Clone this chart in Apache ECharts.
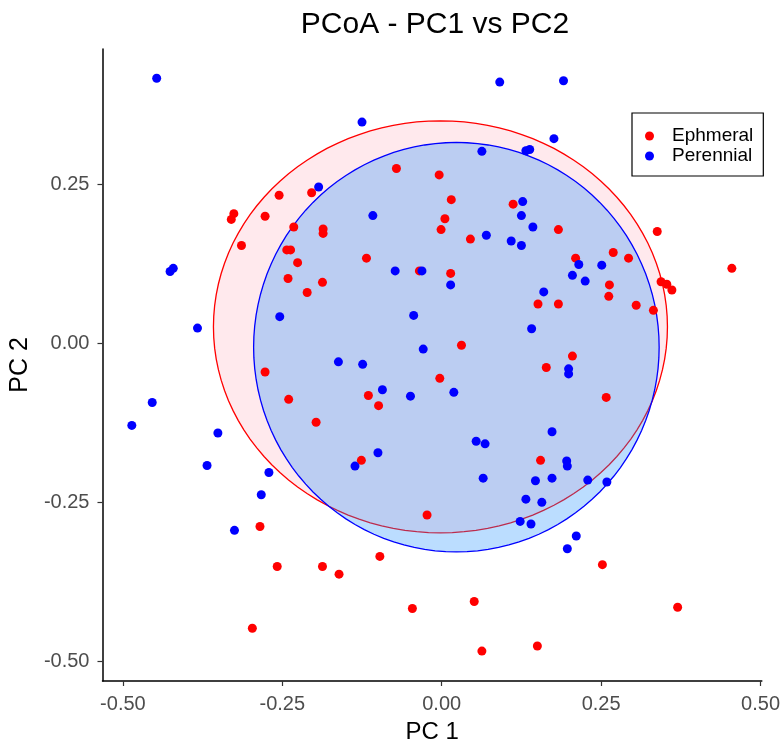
<!DOCTYPE html>
<html lang="en">
  <head>
    <meta charset="UTF-8" />
    <title>PCoA - PC1 vs PC2</title>
    <script src="https://cdn.jsdelivr.net/npm/echarts@6.0.0/dist/echarts.min.js"></script>
    <style>
      html, body { margin: 0; padding: 0; background: #fff; }
    </style>
  </head>
  <body>
    <div id="main" style="width: 783px; height: 749px"></div>
    <script>
      // group points [PC1, PC2]
      var ephmeral = [
        [-0.255, 0.233], [-0.204, 0.237], [-0.326, 0.204], [-0.330, 0.195], [-0.277, 0.200],
        [-0.232, 0.183], [-0.186, 0.180], [-0.186, 0.173], [-0.314, 0.154], [-0.243, 0.147],
        [-0.237, 0.147], [-0.226, 0.127], [-0.241, 0.102], [-0.187, 0.096], [-0.211, 0.080],
        [-0.277, -0.045], [-0.240, -0.088], [-0.197, -0.124], [-0.071, 0.275], [-0.004, 0.265],
        [0.015, 0.226], [0.112, 0.219], [0.005, 0.196], [-0.001, 0.179], [0.045, 0.164],
        [-0.118, 0.134], [0.183, 0.179], [0.338, 0.176], [0.269, 0.143], [0.210, 0.134],
        [0.293, 0.134], [-0.035, 0.114], [0.014, 0.110], [0.151, 0.062], [0.031, -0.003],
        [-0.003, -0.055], [-0.115, -0.082], [-0.099, -0.098], [0.164, -0.038], [-0.126, -0.184],
        [0.155, -0.184], [0.455, 0.118], [0.344, 0.097], [0.353, 0.093], [0.361, 0.084],
        [0.263, 0.092], [0.262, 0.074], [0.183, 0.062], [0.305, 0.060], [0.332, 0.052],
        [0.205, -0.020], [0.258, -0.085], [-0.285, -0.288], [-0.258, -0.351], [-0.187, -0.351],
        [-0.297, -0.448], [-0.023, -0.270], [-0.097, -0.335], [-0.161, -0.363], [-0.046, -0.417],
        [0.051, -0.406], [0.063, -0.484], [0.150, -0.476], [0.252, -0.348], [0.370, -0.415]
      ];
      var perennial = [
        [-0.447, 0.417], [-0.193, 0.246], [0.091, 0.411], [-0.125, 0.348], [0.063, 0.302],
        [0.132, 0.303], [0.138, 0.305], [0.127, 0.223], [0.125, 0.201], [0.143, 0.183],
        [-0.108, 0.201], [0.070, 0.170], [0.109, 0.161], [0.125, 0.154], [0.191, 0.413],
        [0.176, 0.322], [-0.426, 0.113], [-0.421, 0.118], [-0.383, 0.024], [-0.254, 0.042],
        [-0.454, -0.093], [-0.486, -0.129], [-0.351, -0.141], [-0.368, -0.192], [-0.073, 0.114],
        [-0.031, 0.114], [0.014, 0.092], [0.160, 0.081], [0.141, 0.023], [-0.044, 0.044],
        [-0.029, -0.009], [-0.162, -0.029], [-0.124, -0.033], [-0.093, -0.073], [-0.049, -0.083],
        [0.019, -0.077], [0.054, -0.154], [0.068, -0.158], [-0.100, -0.172], [-0.136, -0.193],
        [0.215, 0.124], [0.251, 0.123], [0.205, 0.107], [0.225, 0.098], [0.199, -0.040],
        [0.199, -0.048], [0.173, -0.139], [0.196, -0.185], [0.197, -0.193], [-0.271, -0.203],
        [-0.283, -0.238], [-0.325, -0.294], [0.065, -0.212], [0.147, -0.216], [0.132, -0.245],
        [0.157, -0.250], [0.123, -0.280], [0.140, -0.284], [0.173, -0.212], [0.229, -0.215],
        [0.259, -0.218], [0.211, -0.303], [0.197, -0.323]
      ];

      // ellipses: [centerX, centerY, radiusX, radiusY]
      var ephEllipse = [-0.002, 0.026, 0.356, 0.324];
      var perEllipse = [0.023, -0.006, 0.318, 0.322];

      var xTicks = [-0.5, -0.25, 0, 0.25, 0.5];
      var yTicks = [-0.5, -0.25, 0, 0.25];

      var font = 'Liberation Sans, Arial, sans-serif';

      function ellipseRenderer(fill, stroke) {
        return function (params, api) {
          var cx = api.value(0), cy = api.value(1), rx = api.value(2), ry = api.value(3);
          var pts = [];
          for (var i = 0; i < 120; i++) {
            var t = (2 * Math.PI * i) / 120;
            pts.push(api.coord([cx + rx * Math.cos(t), cy + ry * Math.sin(t)]));
          }
          return {
            type: 'polygon',
            shape: { points: pts },
            style: { fill: fill, stroke: stroke, lineWidth: 1.3 }
          };
        };
      }

      var axisCommon = {
        type: 'value',
        splitLine: { show: false },
        axisLine: { onZero: false, lineStyle: { color: '#000', width: 1.5 } },
        axisTick: { length: 5, lineStyle: { color: '#333', width: 1.2 } },
        axisLabel: {
          color: '#4d4d4d',
          fontSize: 20,
          fontFamily: font,
          margin: 13,
          formatter: function (v) { return v.toFixed(2); }
        },
        nameLocation: 'middle',
        nameTextStyle: { color: '#000', fontSize: 24, fontFamily: font }
      };

      var mCharts = echarts.init(document.getElementById('main'));
      var option = {
        animation: false,
        title: {
          text: 'PCoA - PC1 vs PC2',
          left: 430,
          textAlign: 'center',
          top: 5,
          textStyle: { fontSize: 30, fontWeight: 'normal', color: '#000', fontFamily: font }
        },
        legend: {
          data: ['Ephmeral', 'Perennial'],
          orient: 'vertical',
          left: 632,
          top: 113,
          padding: [13, 10, 10, 13],
          itemGap: 0,
          icon: 'circle',
          itemWidth: 9,
          itemHeight: 9,
          borderColor: '#000',
          borderWidth: 1.2,
          backgroundColor: '#fff',
          textStyle: { fontSize: 19, fontFamily: font, color: '#000', lineHeight: 20, padding: [0, 0, 0, 13] }
        },
        grid: { left: 102, right: 19, top: 49, bottom: 68 },
        xAxis: Object.assign({}, axisCommon, {
          name: 'PC 1',
          nameGap: 39,
          min: -0.532,
          max: 0.502,
          axisLabel: Object.assign({}, axisCommon.axisLabel, { customValues: xTicks }),
          axisTick: Object.assign({}, axisCommon.axisTick, { customValues: xTicks })
        }),
        yAxis: Object.assign({}, axisCommon, {
          name: 'PC 2',
          nameGap: 59,
          min: -0.531,
          max: 0.463,
          nameTextStyle: { color: '#000', fontSize: 25, fontFamily: font },
          axisLabel: Object.assign({}, axisCommon.axisLabel, { customValues: yTicks }),
          axisTick: Object.assign({}, axisCommon.axisTick, { customValues: yTicks })
        }),
        series: [
          {
            name: 'ephEllipse',
            type: 'custom',
            silent: true,
            renderItem: ellipseRenderer('rgba(255,192,203,0.35)', '#ff0000'),
            data: [ephEllipse]
          },
          {
            name: 'perEllipse',
            type: 'custom',
            silent: true,
            renderItem: ellipseRenderer('rgba(30,144,255,0.3)', '#0000ff'),
            data: [perEllipse]
          },
          {
            name: 'Ephmeral',
            type: 'scatter',
            symbolSize: 9,
            itemStyle: { color: '#ff0000', opacity: 1 },
            data: ephmeral
          },
          {
            name: 'Perennial',
            type: 'scatter',
            symbolSize: 9,
            itemStyle: { color: '#0000ff', opacity: 1 },
            data: perennial
          }
        ]
      };
      mCharts.setOption(option);
    </script>
  </body>
</html>
